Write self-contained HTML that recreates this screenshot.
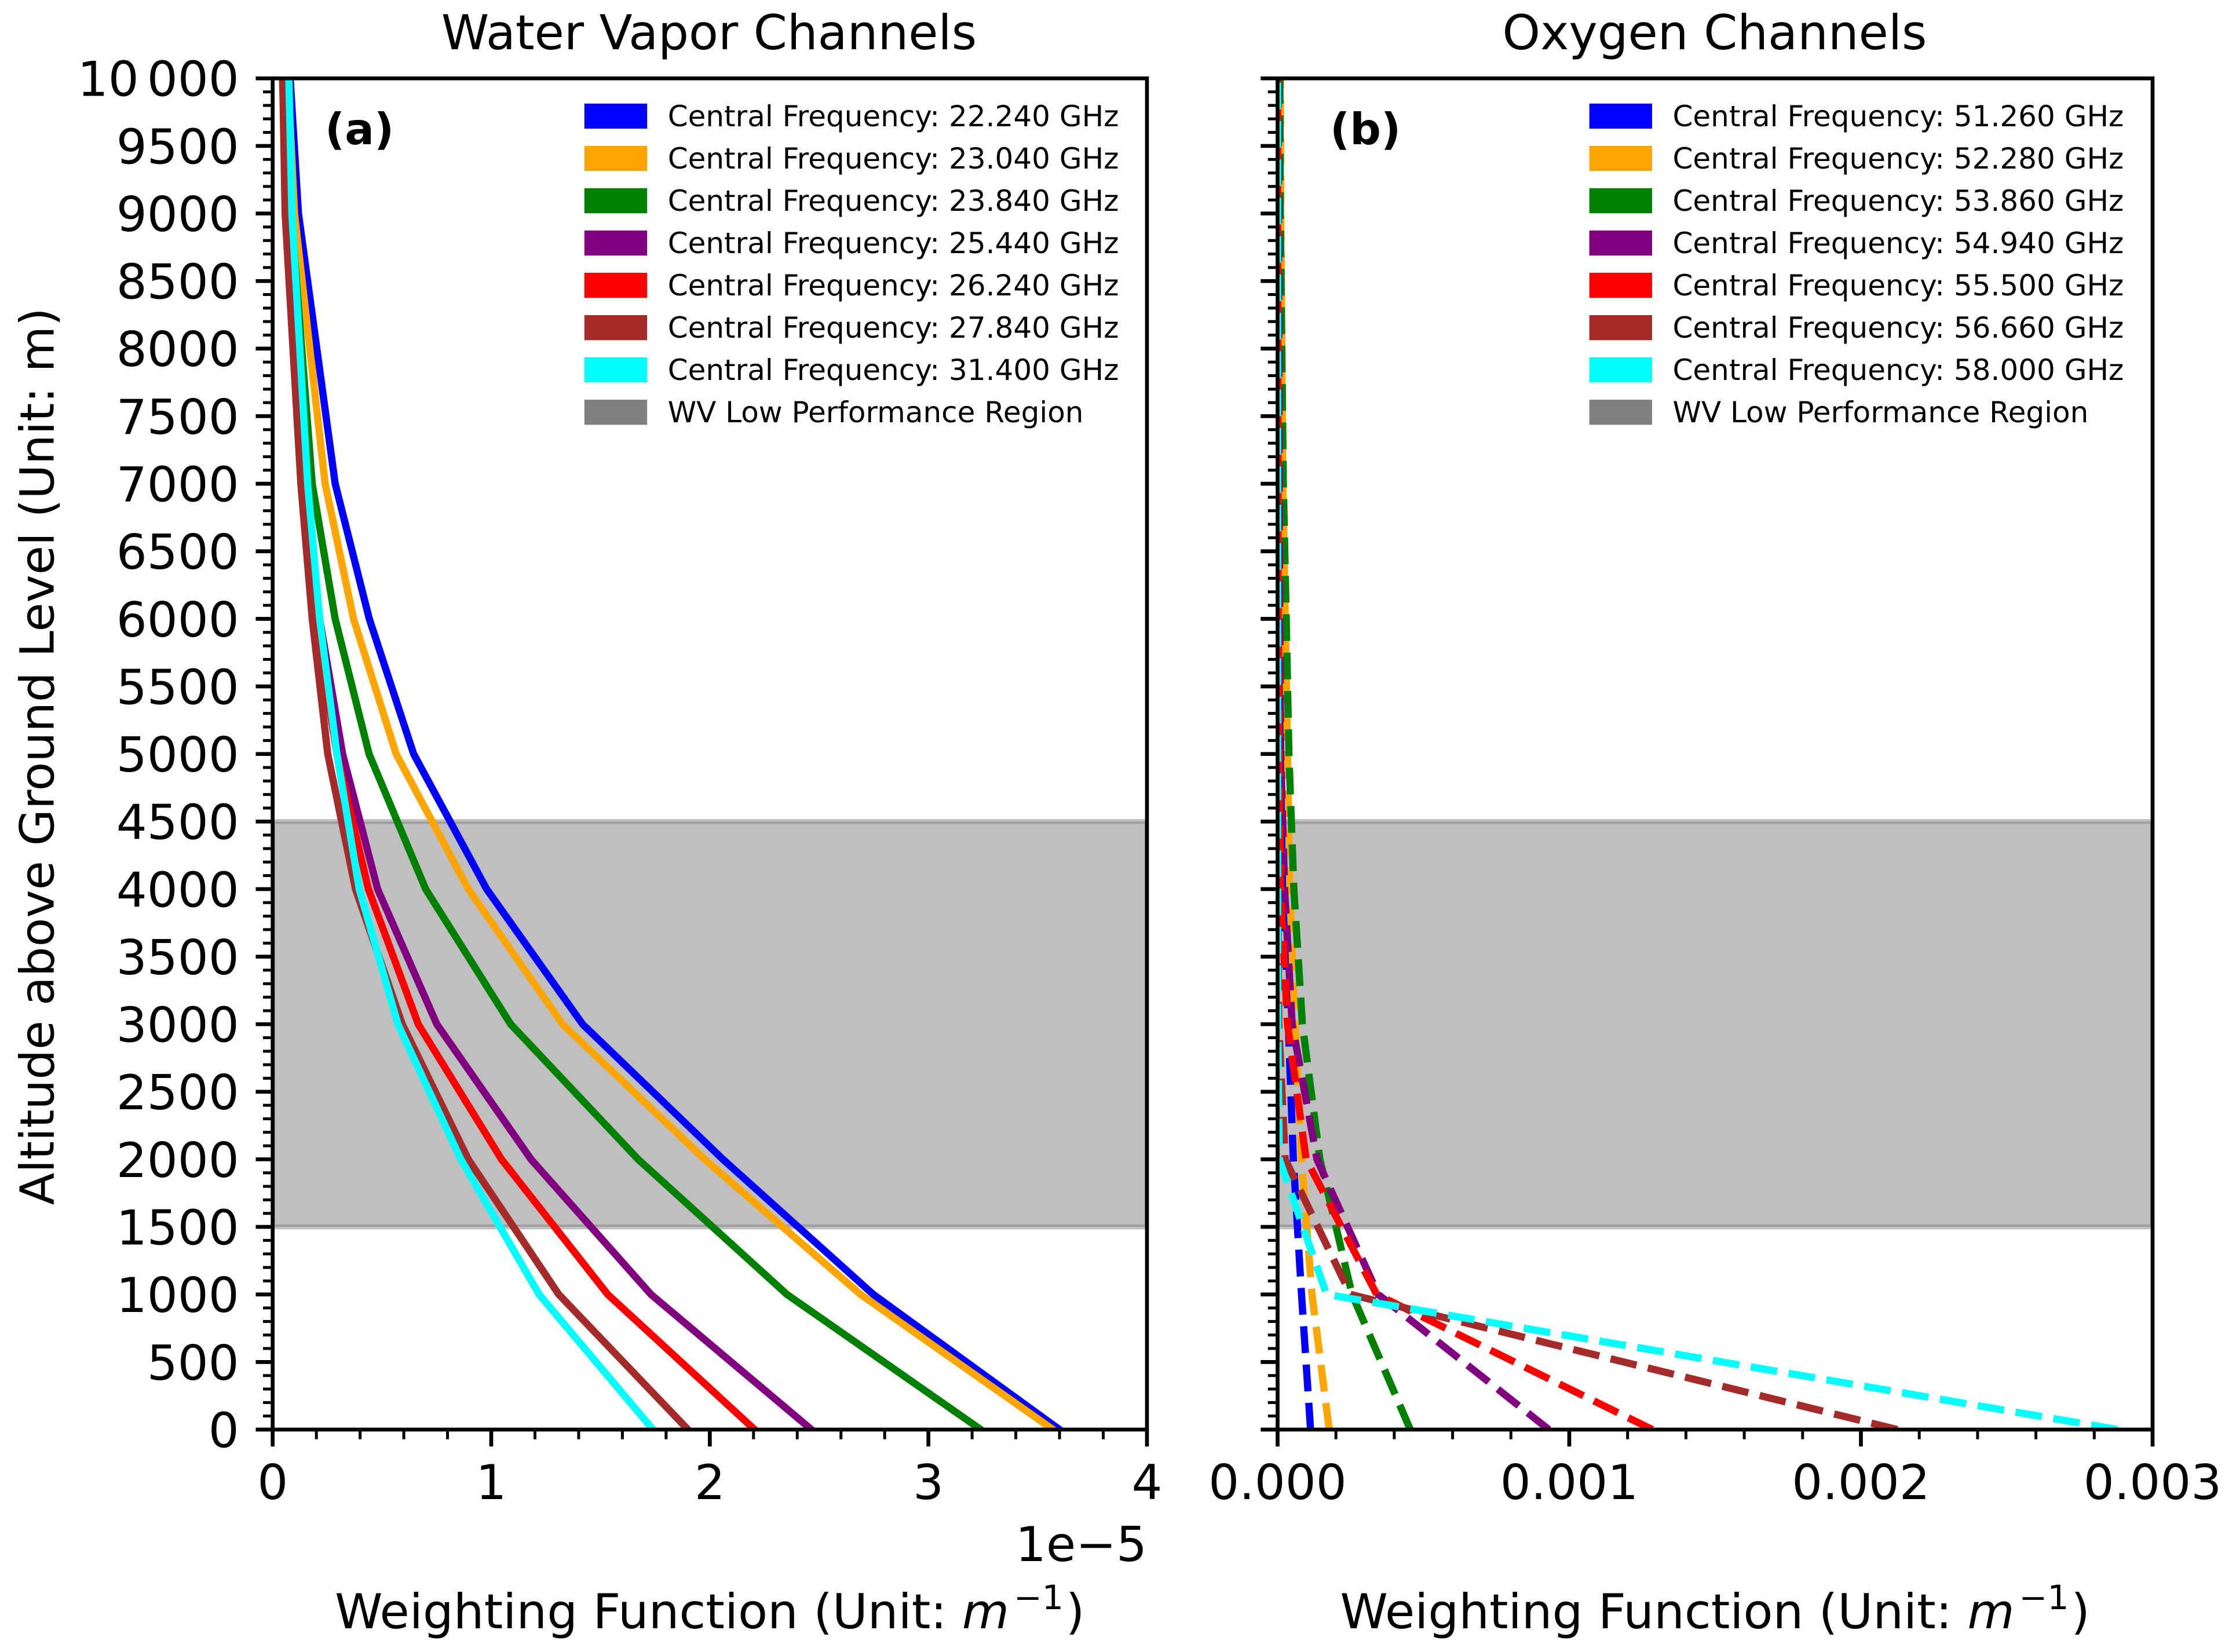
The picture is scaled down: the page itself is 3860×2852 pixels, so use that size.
<!DOCTYPE html>
<html lang="en">
<head>
<meta charset="utf-8">
<title>Weighting Functions</title>
<style>
html,body{margin:0;padding:0;background:#fff;}
svg{display:block;}
text{font-family:"DejaVu Sans","Liberation Sans",sans-serif;fill:#000;}
</style>
</head>
<body>
<svg id="chart" xmlns="http://www.w3.org/2000/svg" width="3860" height="2852" viewBox="0 0 3860 2852">
  <rect x="0" y="0" width="3860" height="2852" fill="#ffffff"/>
  <defs>
    <clipPath id="clip-a"><rect x="470.7" y="135.3" width="1509.3" height="2332.7"/></clipPath>
    <clipPath id="clip-b"><rect x="2205.5" y="135.3" width="1510.5" height="2332.7"/></clipPath>
  </defs>
  <text x="1224" y="85" font-size="83.3" text-anchor="middle">Water Vapor Channels</text>
  <text x="2960" y="85" font-size="83.3" text-anchor="middle">Oxygen Channels</text>
  <text transform="translate(92.4,1305.8) rotate(-90)" font-size="81.5" text-anchor="middle">Altitude above Ground Level (Unit: m)</text>
  <text x="1225.3" y="2811" font-size="83.3" text-anchor="middle">Weighting Function (Unit: <tspan font-style="italic">m</tspan><tspan font-size="58.3" dx="8" dy="-33">−1</tspan><tspan dx="4" dy="33">)</tspan></text>
  <text x="2960.7" y="2811" font-size="83.3" text-anchor="middle">Weighting Function (Unit: <tspan font-style="italic">m</tspan><tspan font-size="58.3" dx="8" dy="-33">−1</tspan><tspan dx="4" dy="33">)</tspan></text>
  <text x="1980" y="2695" font-size="83.3" text-anchor="end">1e−5</text>
  <g id="axes-a"></g>
  <g id="axes-b"></g>
  <text x="561" y="249" font-size="75" font-weight="bold">(a)</text>
  <text x="2296" y="249" font-size="75" font-weight="bold">(b)</text>
</svg>
<script>
// ---- shared data ----
const altitudes = [0, 1000, 2000, 3000, 4000, 5000, 6000, 7000, 9000, 10000];
const seriesColors = ['#0000ff', '#ffa500', '#008000', '#800080', '#ff0000', '#a52a2a', '#00ffff'];
const seriesKeys = ['blue', 'orange', 'green', 'purple', 'red', 'brown', 'cyan'];

// Water vapor weighting functions (units of 1e-5 per m)
const wv22240 = [3.60, 2.748, 2.06, 1.418, 0.979, 0.645, 0.442, 0.286, 0.118, 0.08];
const wv23040 = [3.57, 2.69, 1.976, 1.326, 0.895, 0.565, 0.37, 0.24, 0.10, 0.07];
const wv23840 = [3.24, 2.353, 1.672, 1.089, 0.70, 0.441, 0.286, 0.181, 0.085, 0.06];
const wv25440 = [2.465, 1.731, 1.182, 0.751, 0.48, 0.32, 0.215, 0.15, 0.07, 0.05];
const wv26240 = [2.205, 1.533, 1.047, 0.666, 0.438, 0.294, 0.195, 0.135, 0.065, 0.045];
const wv27840 = [1.90, 1.309, 0.895, 0.593, 0.379, 0.252, 0.181, 0.129, 0.057, 0.046];
const wv31400 = [1.74, 1.219, 0.861, 0.573, 0.396, 0.294, 0.215, 0.16, 0.088, 0.074];

// Oxygen weighting functions (units of 1e-3 per m)
const ox51260 = [0.113, 0.082, 0.054, 0.0367, 0.021, 0.012, 0.0055, 0.0035, 0.002, 0.001];
const ox52280 = [0.177, 0.118, 0.082, 0.0595, 0.0417, 0.034, 0.0263, 0.018, 0.011, 0.0098];
const ox53860 = [0.455, 0.2555, 0.145, 0.085, 0.0557, 0.0387, 0.0296, 0.0197, 0.0095, 0.0078];
const ox54940 = [0.93, 0.345, 0.135, 0.05, 0.024, 0.011, 0.0075, 0.0055, 0.003, 0.002];
const ox55500 = [1.285, 0.34, 0.098, 0.034, 0.010, 0.005, 0.002, 0.0015, 0.0005, 0.0003];
const ox56660 = [2.125, 0.25, 0.026, 0.004, 0.001, 0.0005, 0.0003, 0.0002, 0.0001, 0.0001];
const ox58000 = [2.88, 0.168, 0.006, 0.0005, 0.0002, 0.0001, 0.0001, 0.0001, 0.0001, 0.0001];

const wvLegendLabels = ['Central Frequency: 22.240 GHz', 'Central Frequency: 23.040 GHz', 'Central Frequency: 23.840 GHz', 'Central Frequency: 25.440 GHz', 'Central Frequency: 26.240 GHz', 'Central Frequency: 27.840 GHz', 'Central Frequency: 31.400 GHz', 'WV Low Performance Region'];
const oxLegendLabels = ['Central Frequency: 51.260 GHz', 'Central Frequency: 52.280 GHz', 'Central Frequency: 53.860 GHz', 'Central Frequency: 54.940 GHz', 'Central Frequency: 55.500 GHz', 'Central Frequency: 56.660 GHz', 'Central Frequency: 58.000 GHz', 'WV Low Performance Region'];

const yTickValues = [0, 500, 1000, 1500, 2000, 2500, 3000, 3500, 4000, 4500, 5000, 5500, 6000, 6500, 7000, 7500, 8000, 8500, 9000, 9500, 10000];
const yTickLabels = ['0', '500', '1000', '1500', '2000', '2500', '3000', '3500', '4000', '4500', '5000', '5500', '6000', '6500', '7000', '7500', '8000', '8500', '9000', '9500', '10\u2006000'];
const xTickValuesA = [0, 1, 2, 3, 4];
const xTickLabelsA = ['0', '1', '2', '3', '4'];
const xTickValuesB = [0, 1, 2, 3];
const xTickLabelsB = ['0.000', '0.001', '0.002', '0.003'];
const lowPerformanceBand = [1500, 4500];

// ---- axis helpers ----
const NS = 'http://www.w3.org/2000/svg';
const yTop = 135.3, yBottom = 2468;
const yMax = 10000;
function yScale(v) { return yBottom - (v / yMax) * (yBottom - yTop); }
function makeXScale(x0, x1, xMax) { return function (v) { return x0 + (v / xMax) * (x1 - x0); }; }

function el(tag, parent, attrs) {
  const node = document.createElementNS(NS, tag);
  for (const k in attrs) node.setAttribute(k, attrs[k]);
  parent.appendChild(node);
  return node;
}

function drawPanel(cfg) {
  const g = document.getElementById(cfg.groupId);
  const x = makeXScale(cfg.x0, cfg.x1, cfg.xMax);

  // shaded band
  const band = el('rect', g, {
    x: cfg.x0, y: yScale(lowPerformanceBand[1]),
    width: cfg.x1 - cfg.x0, height: yScale(lowPerformanceBand[0]) - yScale(lowPerformanceBand[1]),
    fill: '#808080', 'fill-opacity': 0.5, stroke: '#808080', 'stroke-opacity': 0.5, 'stroke-width': 8.33,
    'clip-path': 'url(#' + cfg.clipId + ')'
  });
  
  

  // series
  cfg.series.forEach(function (values, i) {
    const pts = values.map(function (v, j) { return x(v).toFixed(2) + ',' + yScale(altitudes[j]).toFixed(2); }).join(' ');
    const line = el('polyline', g, {
      points: pts, fill: 'none', stroke: seriesColors[i], 'stroke-width': 12.5,
      'stroke-linejoin': 'round', 'stroke-linecap': cfg.dashed ? 'butt' : 'square',
      'clip-path': 'url(#' + cfg.clipId + ')'
    });
    if (cfg.dashed) line.setAttribute('stroke-dasharray', '46.25 20');
    
    
  });

  // minor y ticks
  for (let v = 0; v <= yMax; v += 100) {
    if (v % 500 === 0) continue;
    const t = el('line', g, { x1: cfg.x0, x2: cfg.x0 - 16.7, y1: yScale(v), y2: yScale(v), stroke: '#000', 'stroke-width': 5 });
    
    
  }
  // major y ticks
  yTickValues.forEach(function (v, i) {
    const t = el('line', g, { x1: cfg.x0, x2: cfg.x0 - 29.2, y1: yScale(v), y2: yScale(v), stroke: '#000', 'stroke-width': 6.67 });
    
    
    if (cfg.yLabels) {
      const lab = el('text', g, { x: cfg.x0 - 58, y: yScale(v) + 30.4, 'font-size': 83.3, 'text-anchor': 'end' });
      lab.textContent = yTickLabels[i];
      
      
    }
  });
  // minor x ticks
  const steps = cfg.xMax * 5;
  for (let i = 0; i <= steps; i++) {
    if (i % 5 === 0) continue;
    const xp = x(i / 5);
    const t = el('line', g, { x1: xp, x2: xp, y1: yBottom, y2: yBottom + 16.7, stroke: '#000', 'stroke-width': 5 });
    
    
  }
  // major x ticks
  cfg.xTicks.forEach(function (v, i) {
    const xp = x(v);
    const t = el('line', g, { x1: xp, x2: xp, y1: yBottom, y2: yBottom + 29.2, stroke: '#000', 'stroke-width': 6.67 });
    
    
    const lab = el('text', g, { x: xp, y: 2588, 'font-size': 83.3, 'text-anchor': 'middle' });
    lab.textContent = cfg.xLabels[i];
    
    
  });

  // spines
  const spine = el('rect', g, { x: cfg.x0, y: yTop, width: cfg.x1 - cfg.x0, height: yBottom - yTop, fill: 'none', stroke: '#000', 'stroke-width': 6.67, 'stroke-linejoin': 'miter' });
  
  

  // legend
  const legend = el('g', g, {});
  
  
  cfg.legend.forEach(function (label, i) {
    const cy = 200.5 + 73.03 * i;
    const color = i < seriesColors.length ? seriesColors[i] : '#808080';
    const swatch = el('rect', legend, { x: cfg.x0 + 542.3, y: cy - 17.5, width: 100, height: 35, fill: color, stroke: color, 'stroke-width': 8.33 });
    
    
    const txt = el('text', legend, { x: cfg.x0 + 682, y: cy + 17.5, 'font-size': 50 });
    txt.textContent = label;
    
    
  });
}

drawPanel({
  groupId: 'axes-a', clipId: 'clip-a', x0: 470.7, x1: 1980, xMax: 4, dashed: false, yLabels: true,
  series: [wv22240, wv23040, wv23840, wv25440, wv26240, wv27840, wv31400],
  xTicks: xTickValuesA, xLabels: xTickLabelsA, legend: wvLegendLabels
});
drawPanel({
  groupId: 'axes-b', clipId: 'clip-b', x0: 2205.5, x1: 3716, xMax: 3, dashed: true, yLabels: false,
  series: [ox51260, ox52280, ox53860, ox54940, ox55500, ox56660, ox58000],
  xTicks: xTickValuesB, xLabels: xTickLabelsB, legend: oxLegendLabels
});
</script>
</body>
</html>
